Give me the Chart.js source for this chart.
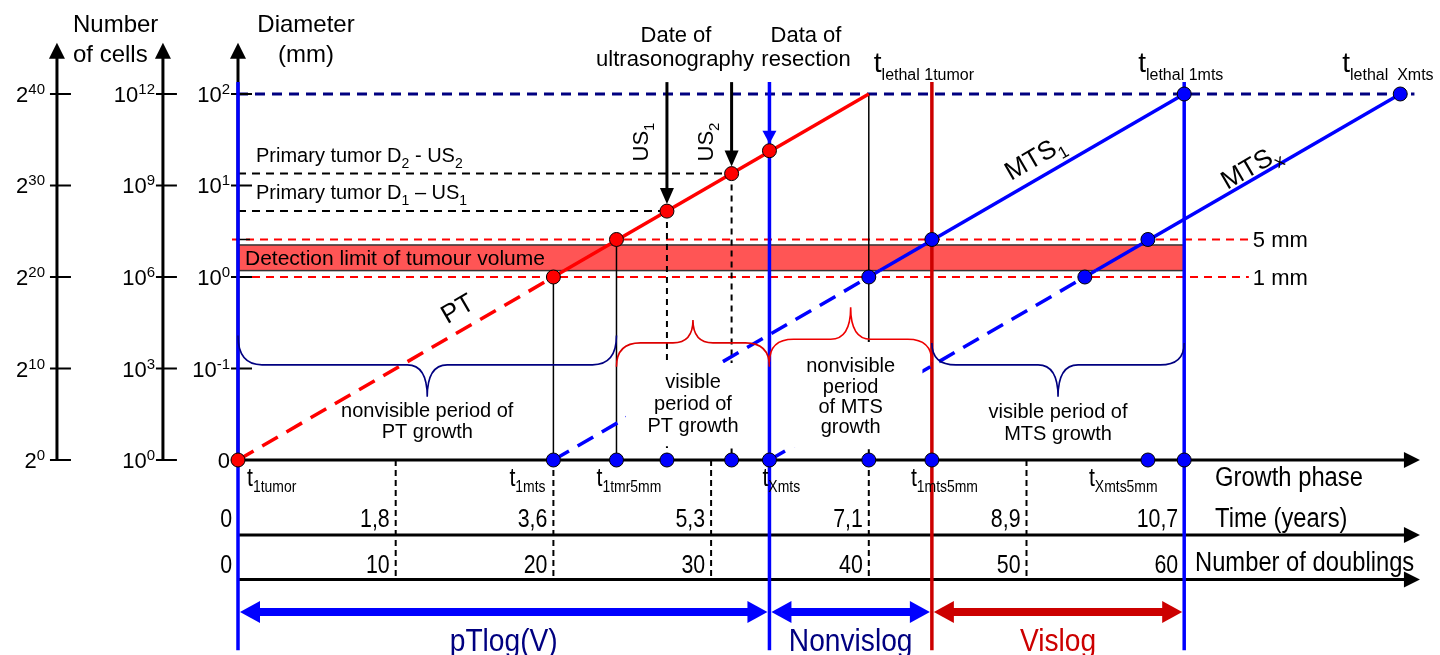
<!DOCTYPE html>
<html>
<head>
<meta charset="utf-8">
<script src="https://cdn.jsdelivr.net/npm/chart.js@4.4.1/dist/chart.umd.min.js"></script>
<style>
  html, body { margin: 0; padding: 0; background: #fff; }
  canvas { display: block; }
</style>
</head>
<body>
<canvas id="growthChart" width="1440" height="655"></canvas>
<script>
// x = number of doublings, y = log2(number of cells)
const doublingTicks = [0, 10, 20, 30, 40, 50, 60];
const doublingLabels = ['0', '10', '20', '30', '40', '50', '60'];
const yearLabels = ['0', '1,8', '3,6', '5,3', '7,1', '8,9', '10,7'];

const log2Levels = [0, 10, 20, 30, 40];
const pow2Labels = ['0', '10', '20', '30', '40'];
const pow10Labels = ['0', '3', '6', '9', '12'];
const diameterLabels = [null, '-1', '0', '1', '2'];

// primary tumour
const ptLineX = [0, 20.7, 40];
const ptLineY = [0, 20.7, 40];
const ptPointX = [0, 20, 24, 27.2, 31.3, 33.7];
const ptPointY = [0, 20, 24.1, 27.2, 31.3, 33.8];

// first metastasis
const mts1LineX = [20, 40.7, 60];
const mts1LineY = [0, 20.7, 40];
const mts1PointX = [40, 44, 60];
const mts1PointY = [20, 24.1, 40];

// metastasis X
const mtsxLineX = [33.7, 54.4, 73.7];
const mtsxLineY = [0, 20.7, 40];
const mtsxPointX = [53.7, 57.7, 73.7];
const mtsxPointY = [20, 24.1, 40];

// events on the growth phase axis
const phasePointX = [20, 24, 27.2, 31.3, 33.7, 40, 44, 57.7, 60];
const phasePointY = [0, 0, 0, 0, 0, 0, 0, 0, 0];

const oneMm = 20, fiveMm = 24.1, bandLow = 20.7, bandHigh = 23.5, lethal = 40;
const us1 = 27.2, us2 = 31.3, resection = 33.7, mts5mm = 44, end1mts = 60;

const FONT = '"Liberation Sans", Arial, Helvetica, sans-serif';

function pts(xs, ys) {
    return xs.map((v, i) => ({ x: v, y: ys[i] }));
}

// parts: [text, size, dy]
function txt(ctx, x, y, parts, align, color, sx) {
    sx = sx || 1;
    let w = 0;
    const widths = parts.map(p => {
        ctx.font = p[1] + 'px ' + FONT;
        const pw = ctx.measureText(p[0]).width * sx;
        w += pw;
        return pw;
    });
    let cx = align === 'right' ? x - w : align === 'center' ? x - w / 2 : x;
    ctx.fillStyle = color || '#000';
    ctx.textAlign = 'left';
    ctx.textBaseline = 'alphabetic';
    parts.forEach((p, i) => {
        ctx.font = p[1] + 'px ' + FONT;
        ctx.save();
        ctx.translate(cx, y + (p[2] || 0));
        ctx.scale(sx, 1);
        ctx.fillText(p[0], 0, 0);
        ctx.restore();
        cx += widths[i];
    });
}

function seg(ctx, x1, y1, x2, y2, color, lw, dash) {
    ctx.save();
    ctx.strokeStyle = color;
    ctx.lineWidth = lw;
    ctx.setLineDash(dash || []);
    ctx.beginPath();
    ctx.moveTo(x1, y1);
    ctx.lineTo(x2, y2);
    ctx.stroke();
    ctx.restore();
}

function head(ctx, tx, ty, dx, dy, len, half, color) {
    ctx.save();
    ctx.fillStyle = color;
    ctx.beginPath();
    ctx.moveTo(tx, ty);
    ctx.lineTo(tx - dx * len - dy * half, ty - dy * len + dx * half);
    ctx.lineTo(tx - dx * len + dy * half, ty - dy * len - dx * half);
    ctx.closePath();
    ctx.fill();
    ctx.restore();
}

function brace(ctx, x1, x2, yEnd, yBar, yTip, color) {
    const xm = (x1 + x2) / 2, r = 24, rc = 20;
    ctx.save();
    ctx.strokeStyle = color;
    ctx.lineWidth = 1.6;
    ctx.beginPath();
    ctx.moveTo(x1, yEnd);
    ctx.quadraticCurveTo(x1, yBar, x1 + r, yBar);
    ctx.lineTo(xm - rc, yBar);
    ctx.quadraticCurveTo(xm, yBar, xm, yTip);
    ctx.quadraticCurveTo(xm, yBar, xm + rc, yBar);
    ctx.lineTo(x2 - r, yBar);
    ctx.quadraticCurveTo(x2, yBar, x2, yEnd);
    ctx.stroke();
    ctx.restore();
}

const diagram = {
    id: 'diagram',
    beforeDatasetsDraw(chart) {
        const ctx = chart.ctx;
        const X = v => chart.scales.x.getPixelForValue(v);
        const Y = v => chart.scales.y.getPixelForValue(v);
        const y0 = Y(0);
        ctx.save();

        // detection band
        ctx.fillStyle = '#ff5555';
        ctx.fillRect(X(0), Y(bandHigh), X(end1mts) - X(0), Y(bandLow) - Y(bandHigh));
        ctx.strokeStyle = '#333';
        ctx.lineWidth = 1.5;
        ctx.strokeRect(X(0), Y(bandHigh), X(end1mts) - X(0), Y(bandLow) - Y(bandHigh));
        txt(ctx, X(0) + 7, Y(bandLow) - 6, [['Detection limit of tumour volume', 21]]);

        // size reference lines
        seg(ctx, X(0) - 6, Y(fiveMm), X(64.1), Y(fiveMm), '#ff0000', 2, [8, 6]);
        seg(ctx, X(0), Y(oneMm), X(64.1), Y(oneMm), '#ff0000', 2, [8, 6]);
        txt(ctx, X(64.1) + 4, Y(fiveMm) + 8, [['5 mm', 22]]);
        txt(ctx, X(64.1) + 4, Y(oneMm) + 8, [['1 mm', 22]]);
        seg(ctx, X(0), Y(lethal), X(74.6), Y(lethal), '#000080', 2.8, [10, 7]);

        // ultrasonography levels
        seg(ctx, X(0), Y(ptPointY[4]), X(us2), Y(ptPointY[4]), '#000', 2, [8, 6]);
        seg(ctx, X(0), Y(ptPointY[3]), X(us1), Y(ptPointY[3]), '#000', 2, [8, 6]);
        txt(ctx, X(0) + 18, Y(ptPointY[4]) - 12, [['Primary tumor D', 20], ['2', 14, 6], [' - US', 20], ['2', 14, 6]]);
        txt(ctx, X(0) + 18, Y(ptPointY[3]) - 12, [['Primary tumor D', 20], ['1', 14, 6], [' \u2013 US', 20], ['1', 14, 6]]);

        // drop lines
        seg(ctx, X(20), Y(oneMm), X(20), y0, '#000', 1.5);
        seg(ctx, X(24), Y(fiveMm), X(24), y0, '#000', 1.5);
        seg(ctx, X(40), Y(lethal), X(40), Y(13.2), '#000', 1.5);
        seg(ctx, X(40), Y(13.2), X(40), y0, '#000', 2, [6, 5]);
        seg(ctx, X(us1), Y(us1), X(us1), y0, '#000', 2, [6, 5]);
        seg(ctx, X(us2), Y(us2), X(us2), y0, '#000', 2, [6, 5]);
        doublingTicks.slice(1).forEach(d => seg(ctx, X(d), y0, X(d), Y(-13.05), '#000', 2, [6, 4]));

        // bottom axes
        [0, -8.2, -13.05].forEach(lv => {
            seg(ctx, X(0), Y(lv), X(74.2), Y(lv), '#000', 3);
            head(ctx, X(74.95), Y(lv), 1, 0, 16, 8, '#000');
        });

        // left axes
        [-11.48, -4.76, 0].forEach(ax => {
            seg(ctx, X(ax), y0, X(ax), Y(44.2), '#000', 3);
            head(ctx, X(ax), Y(45.6), 0, -1, 16, 8, '#000');
            log2Levels.forEach(lv => seg(ctx, X(ax) - 7, Y(lv), X(ax) + 14, Y(lv), '#000', 2));
        });
        seg(ctx, X(0) - 2, Y(fiveMm), X(0) + 12, Y(fiveMm), '#000', 1.5);

        // period boundaries
        [0, resection, end1mts].forEach(v => seg(ctx, X(v), Y(41.3), X(v), Y(-20.8), '#0000ff', 3.5));
        seg(ctx, X(mts5mm), Y(41.3), X(mts5mm), Y(-20.8), '#cc0000', 3.5);
        ctx.restore();
    },
    afterDatasetsDraw(chart) {
        const ctx = chart.ctx;
        const X = v => chart.scales.x.getPixelForValue(v);
        const Y = v => chart.scales.y.getPixelForValue(v);
        const y0 = Y(0);
        ctx.save();

        // label boxes hiding lines
        ctx.fillStyle = '#fff';
        ctx.fillRect(X(24.6), Y(10.6), X(33.2) - X(24.6), Y(1.5) - Y(10.6));
        ctx.fillRect(X(35.13), Y(12.9), X(43.4) - X(35.13), Y(1.35) - Y(12.9));

        // braces
        brace(ctx, X(0), X(24), Y(13.6), Y(10.4), Y(6.9), '#000080');
        brace(ctx, X(24), X(resection), Y(10.2), Y(12.8), Y(15.3), '#dd0000');
        brace(ctx, X(resection), X(mts5mm), Y(10.7), Y(13.2), Y(16.7), '#ee0000');
        brace(ctx, X(mts5mm), X(end1mts), Y(12.8), Y(10.4), Y(6.9), '#000080');

        const cPT = (X(0) + X(24)) / 2, cV = (X(24) + X(resection)) / 2;
        const cN = (X(resection) + X(mts5mm)) / 2, cM = (X(mts5mm) + X(end1mts)) / 2;
        txt(ctx, cPT, 417, [['nonvisible period of', 20]], 'center');
        txt(ctx, cPT, 438, [['PT growth', 20]], 'center');
        txt(ctx, cV, 388, [['visible', 20]], 'center');
        txt(ctx, cV, 410, [['period of', 20]], 'center');
        txt(ctx, cV, 432, [['PT growth', 20]], 'center');
        txt(ctx, cN, 372, [['nonvisible', 20]], 'center');
        txt(ctx, cN, 393, [['period', 20]], 'center');
        txt(ctx, cN, 413, [['of MTS', 20]], 'center');
        txt(ctx, cN, 433, [['growth', 20]], 'center');
        txt(ctx, cM, 418, [['visible period of', 20]], 'center');
        txt(ctx, cM, 440, [['MTS growth', 20]], 'center');

        // line labels along the slope
        const ang = Math.atan2(Y(1) - Y(0), X(1) - X(0));
        [[13.9, 16.6, [['PT', 26]]], [50.5, 33.1, [['MTS', 26], ['1', 17, 7]]], [64.2, 32.1, [['MTS', 26], ['x', 18, 7]]]].forEach(l => {
            ctx.save();
            ctx.translate(X(l[0]), Y(l[1]));
            ctx.rotate(ang);
            txt(ctx, 0, 9, l[2], 'center');
            ctx.restore();
        });

        // arrows to ultrasonography and resection
        seg(ctx, X(us1), Y(41.3), X(us1), Y(us1) - 20, '#000', 3);
        head(ctx, X(us1), Y(us1) - 7, 0, 1, 16, 7, '#000');
        seg(ctx, X(us2), Y(41.3), X(us2), Y(us2) - 20, '#000', 3);
        head(ctx, X(us2), Y(us2) - 7, 0, 1, 16, 7, '#000');
        head(ctx, X(resection), Y(ptPointY[5]) - 7, 0, 1, 13, 7, '#0000ff');
        [[us1, 'US', '1'], [us2, 'US', '2']].forEach(u => {
            ctx.save();
            ctx.translate(X(u[0]) - 19, 142);
            ctx.rotate(-Math.PI / 2);
            txt(ctx, 0, 0, [[u[1], 22], [u[2], 15, 6]], 'center');
            ctx.restore();
        });

        // top texts
        txt(ctx, 73, 32, [['Number', 24]]);
        txt(ctx, 73, 62, [['of cells', 24]]);
        txt(ctx, 306, 32, [['Diameter', 24]], 'center');
        txt(ctx, 306, 62, [['(mm)', 24]], 'center');
        txt(ctx, 676, 42, [['Date of', 22]], 'center');
        txt(ctx, 675, 66, [['ultrasonography', 22]], 'center');
        txt(ctx, 806, 42, [['Data of', 22]], 'center');
        txt(ctx, 806, 66, [['resection', 22]], 'center');
        txt(ctx, X(lethal) + 5, 72, [['t', 28], ['lethal 1tumor', 16, 8]]);
        txt(ctx, X(end1mts) - 46, 72, [['t', 28], ['lethal 1mts', 16, 8]]);
        txt(ctx, X(73.7) - 58, 72, [['t', 28], ['lethal  Xmts', 16, 8]]);

        // left axis labels
        log2Levels.forEach((lv, i) => {
            const py = Y(lv) + 8;
            txt(ctx, 45, py, [['2', 22], [pow2Labels[i], 15, -8]], 'right');
            txt(ctx, 155, py, [['10', 22], [pow10Labels[i], 15, -8]], 'right');
            if (diameterLabels[i] === null) {
                txt(ctx, 230, py, [['0', 22]], 'right');
            } else {
                txt(ctx, 230, py, [['10', 22], [diameterLabels[i], 15, -8]], 'right');
            }
        });

        // growth phase labels
        const NX = 0.82;
        [[0, 9, '1tumor'], [20, -44, '1mts'], [24, -20, '1tmr5mm'], [resection, -7, 'Xmts'], [mts5mm, -21, '1mts5mm'], [57.7, -59, 'Xmts5mm']].forEach(p => {
            txt(ctx, X(p[0]) + p[1], y0 + 26, [['t', 26], [p[2], 17, 6]], 'left', '#000', NX);
        });
        txt(ctx, 1215, y0 + 26, [['Growth phase', 27]], 'left', '#000', 0.88);
        doublingTicks.forEach((d, i) => {
            const right = i === 0 ? X(0) - 6 : X(d) - 6;
            txt(ctx, right, Y(-8.2) - 8, [[yearLabels[i], 26]], 'right', '#000', NX);
            txt(ctx, right, Y(-13.05) - 6, [[doublingLabels[i], 26]], 'right', '#000', NX);
        });
        txt(ctx, 1215, Y(-8.2) - 8, [['Time (years)', 27]], 'left', '#000', 0.88);
        txt(ctx, 1195, Y(-13.05) - 8, [['Number of doublings', 27]], 'left', '#000', 0.88);

        // period arrows
        const ay = Y(-16.6);
        [[0, resection, '#0000ff', 'pTlog(V)', '#000080'], [resection, mts5mm, '#0000ff', 'Nonvislog', '#000080'], [mts5mm, end1mts, '#cc0000', 'Vislog', '#cc0000']].forEach(a => {
            const x1 = X(a[0]) + 2, x2 = X(a[1]) - 2;
            seg(ctx, x1 + 15, ay, x2 - 15, ay, a[2], 8);
            head(ctx, x1, ay, -1, 0, 20, 11, a[2]);
            head(ctx, x2, ay, 1, 0, 20, 11, a[2]);
            txt(ctx, (x1 + x2) / 2, 651, [[a[3], 32]], 'center', a[4], 0.88);
        });
        ctx.restore();
    }
};

const lineStyle = (color) => ({
    showLine: true,
    borderColor: color,
    borderWidth: 3.5,
    pointRadius: 0,
    segment: { borderDash: c => (c.p0DataIndex === 0 ? [18, 10] : undefined) },
    order: 3
});
const markStyle = (color) => ({
    showLine: false,
    pointRadius: 7,
    pointBackgroundColor: color,
    pointBorderColor: '#000',
    pointBorderWidth: 1,
    order: 1
});

new Chart(document.getElementById('growthChart'), {
    type: 'scatter',
    data: {
        datasets: [
            Object.assign({ label: 'PT', data: pts(ptLineX, ptLineY) }, lineStyle('#ff0000')),
            Object.assign({ label: 'MTS1', data: pts(mts1LineX, mts1LineY) }, lineStyle('#0000ff')),
            Object.assign({ label: 'MTSx', data: pts(mtsxLineX, mtsxLineY) }, lineStyle('#0000ff')),
            Object.assign({ label: 'PT points', data: pts(ptPointX, ptPointY) }, markStyle('#ff0000')),
            Object.assign({ label: 'MTS1 points', data: pts(mts1PointX, mts1PointY) }, markStyle('#0000ff')),
            Object.assign({ label: 'MTSx points', data: pts(mtsxPointX, mtsxPointY) }, markStyle('#0000ff')),
            Object.assign({ label: 'Growth phase', data: pts(phasePointX, phasePointY) }, markStyle('#0000ff'))
        ]
    },
    options: {
        responsive: false,
        animation: false,
        layout: { padding: 0, autoPadding: false },
        plugins: { legend: { display: false }, tooltip: { enabled: false } },
        scales: {
            x: { type: 'linear', min: -15.092, max: 76.221, display: false },
            y: { type: 'linear', min: -21.311, max: 50.273, display: false }
        }
    },
    plugins: [diagram]
});
</script>
</body>
</html>
